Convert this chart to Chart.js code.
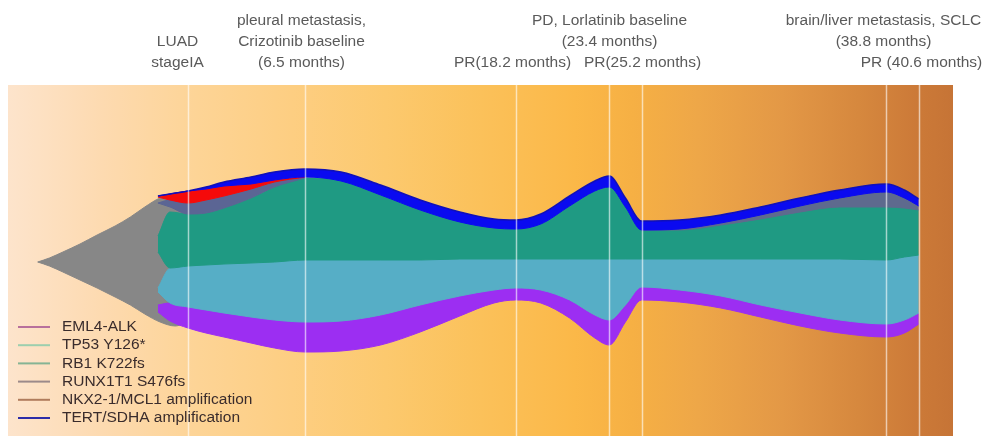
<!DOCTYPE html>
<html>
<head>
<meta charset="utf-8">
<script src="https://cdn.jsdelivr.net/npm/chart.js@4.4.1/dist/chart.umd.min.js"></script>
<style>
  html, body { margin: 0; padding: 0; background: #fff; }
  canvas { display: block; }
</style>
</head>
<body>
<canvas id="fishChart" width="989" height="436"></canvas>
<script>
// months since diagnosis for each sampled column of the fish body
const months = [-1.67, -1, 0, 1, 2, 3.5, 4.8, 6.5, 8.5, 10.7, 12.9, 15.1, 17, 18.2, 19.6,
  21.2, 22.6, 23.4, 24.3, 25.2, 27.3, 29.6, 31.8, 34, 36.2, 38.8, 39.8, 40.6];

// clone edges, measured from the fish midline (upper edge / lower edge)
const blueTop = [65, 67, 70, 74, 79, 84, 89, 92, 89, 76, 61, 49, 42, 41, 47, 65, 80, 85, 63, 40, 41, 46, 54, 63, 71, 77, 71, 62];
const blueBottom = [65, 67, 70, 72, 75, 77, 81, 84, 80, 66, 51, 39, 33, 32, 37, 55, 70, 74, 54, 31, 32, 38, 46, 55, 63, 69, 63, 55];
const redTop = [64, 67, 70, 72, 75, 77, 81, 84];
const redBottom = [64, 61, 58, 61, 65, 72, 79, 84];
const slateEarlyTop = [58, 61, 58, 61, 65, 72, 79, 84];
const slateEarlyBottom = [58, 54, 47, 48, 53, 63, 74, 83];
const slateLateTop = [31, 32, 38, 46, 55, 63, 69, 63, 55];     // from 25.2 months on
const slateLateBottom = [31, 31, 36, 42, 49, 54, 54, 53, 51];
const tealTop = [25, 49, 47, 48, 53, 63, 74, 83, 80, 66, 51, 39, 33, 32, 37, 55, 70, 74, 54, 31, 31, 36, 42, 49, 54, 54, 53, 51];
const tealBottom = [9, -7, -5, -4, -3, -2, -1, 1, 1, 1, 1, 2, 2, 2, 2, 2, 2, 2, 2, 2, 2, 2, 2, 2, 2, 1, 4, 6];
const lightTop = [-27, -7, -5, -4, -3, -2, -1, 1, 1, 1, 1, 2, 2, 2, 2, 2, 2, 2, 2, 2, 2, 2, 2, 2, 2, 1, 4, 6];
const lightBottom = [-31, -42, -46, -49, -52, -56, -59, -61, -60, -54, -44, -35, -29, -27, -29, -39, -54, -59, -44, -26, -29, -35, -44, -52, -59, -63, -59, -52];
const purpleTop = [-44, -42, -46, -49, -52, -56, -59, -61, -60, -54, -44, -35, -29, -27, -29, -39, -54, -59, -44, -26, -29, -35, -44, -52, -59, -63, -59, -52];
const purpleBottom = [-51, -60, -67, -72, -76, -82, -87, -91, -90, -84, -71, -55, -42, -39, -42, -57, -77, -84, -61, -39, -41, -47, -56, -65, -72, -76, -72, -63];

// founder clone (grey tail)
const founderMonths = [-8.35, -7.7, -6.95, -6, -5.05, -4.05, -3.2, -2.4, -1.55, -0.7, 0.4];
const founderTop = [-1, 3, 9, 17, 26, 35, 44, 54, 63, 66, 61];
const founderBottom = [-1, -5, -11, -19, -27, -36, -44, -53, -61, -65, -54];

// clinical time points
const eventMonths = [0, 6.5, 18.2, 23.4, 25.2, 38.8, 40.6];
const eventLabels = [
  ['LUAD', 'stageIA'],
  ['pleural metastasis,', 'Crizotinib baseline', '(6.5 months)'],
  ['PR(18.2 months)'],
  ['PD, Lorlatinib baseline', '(23.4 months)'],
  ['PR(25.2 months)'],
  ['brain/liver metastasis, SCLC', '(38.8 months)'],
  ['PR (40.6 months)']
];

const legendNames = ['EML4-ALK', 'TP53 Y126*', 'RB1 K722fs', 'RUNX1T1 S476fs', 'NKX2-1/MCL1 amplification', 'TERT/SDHA amplification'];
const legendColors = ['#b8709c', '#9ccfae', '#86b494', '#9c8a8a', '#b07c5c', '#2c2ca8'];

// label layout: first text row and small horizontal nudge (px)
const labelRow = [1, 0, 2, 0, 2, 0, 2];
const labelShift = [-11, -4, -4, 0, 0, -3, 2];

const pts = (vals, xs, from) => vals.map((v, i) => ({ x: xs[from + i], y: v }));

function band(label, color, top, bottom, from, xs, edge) {
  xs = xs || months;
  from = from || 0;
  return [
    { label: label, data: pts(top, xs, from), fill: '+1', backgroundColor: color,
      borderColor: edge || color, borderWidth: edge ? 1.5 : 1 },
    { label: label + ' lower', data: pts(bottom, xs, from), fill: false,
      borderColor: color, borderWidth: 1 }
  ];
}

// first dataset ends up on top
const datasets = [].concat(
  band('TERT/SDHA', '#0a0af0', blueTop, blueBottom, 0, months, '#1010b8'),
  band('red', '#f50a0a', redTop, redBottom),
  band('slate early', '#5b6594', slateEarlyTop, slateEarlyBottom),
  band('slate late', '#5e6a8e', slateLateTop, slateLateBottom, 19),
  band('teal', '#1f9a83', tealTop, tealBottom),
  band('light blue', '#56aec6', lightTop, lightBottom),
  band('purple', '#9c2ef2', purpleTop, purpleBottom),
  band('founder', '#878787', founderTop, founderBottom, 0, founderMonths)
);

const backdrop = {
  id: 'backdrop',
  beforeDatasetsDraw(chart) {
    const { ctx, chartArea: a } = chart;
    const g = ctx.createLinearGradient(a.left, 0, a.right, 0);
    g.addColorStop(0, '#fde4cc');
    g.addColorStop(0.1, '#fddab0');
    g.addColorStop(0.2, '#fdd496');
    g.addColorStop(0.3, '#fdce82');
    g.addColorStop(0.4, '#fcc96e');
    g.addColorStop(0.5, '#fbc15a');
    g.addColorStop(0.6, '#fbb848');
    g.addColorStop(0.66, '#f6b044');
    g.addColorStop(0.73, '#eea748');
    g.addColorStop(0.82, '#e39846');
    g.addColorStop(0.9, '#d6883e');
    g.addColorStop(0.96, '#cc7a38');
    g.addColorStop(1, '#c67436');
    ctx.save();
    ctx.fillStyle = g;
    ctx.fillRect(a.left, a.top, a.right - a.left, a.bottom - a.top);
    ctx.restore();
  }
};

const timeline = {
  id: 'timeline',
  afterDatasetsDraw(chart) {
    const { ctx, chartArea: a, scales: { x } } = chart;
    ctx.save();
    ctx.strokeStyle = 'rgba(255,255,255,0.6)';
    ctx.lineWidth = 1.5;
    ctx.font = '15.5px "Liberation Sans", Arial, sans-serif';
    ctx.fillStyle = '#5a5a5a';
    ctx.textAlign = 'center';
    ctx.textBaseline = 'middle';
    eventMonths.forEach((m, i) => {
      const px = Math.round(x.getPixelForValue(m)) + 0.5;
      ctx.beginPath();
      ctx.moveTo(px, a.top);
      ctx.lineTo(px, a.bottom);
      ctx.stroke();
      eventLabels[i].forEach((t, j) => {
        ctx.fillText(t, px + labelShift[i], 21 + 21 * (labelRow[i] + j));
      });
    });
    ctx.restore();
  },
  afterDraw(chart) {
    // legend sits inside the plot, bottom left
    const ctx = chart.ctx;
    ctx.save();
    ctx.font = '15.5px "Liberation Sans", Arial, sans-serif';
    ctx.textAlign = 'left';
    ctx.textBaseline = 'middle';
    legendNames.forEach((name, i) => {
      const y = 327 + 18.2 * i;
      ctx.strokeStyle = legendColors[i];
      ctx.lineWidth = 2;
      ctx.beginPath();
      ctx.moveTo(18, y);
      ctx.lineTo(50, y);
      ctx.stroke();
      ctx.fillStyle = '#3a2c2c';
      ctx.fillText(name, 62, y);
    });
    ctx.restore();
  }
};

new Chart(document.getElementById('fishChart'), {
  type: 'line',
  data: { datasets: datasets },
  options: {
    responsive: false,
    animation: false,
    devicePixelRatio: 1,
    layout: { padding: { left: 8, right: 36, top: 85, bottom: 0 } },
    scales: {
      x: { type: 'linear', min: -10, max: 42.5, display: false },
      y: { min: -175, max: 176, display: false }
    },
    elements: {
      point: { radius: 0 },
      line: { cubicInterpolationMode: 'monotone' }
    },
    plugins: { legend: { display: false }, tooltip: { enabled: false } }
  },
  plugins: [backdrop, timeline]
});
</script>
</body>
</html>
